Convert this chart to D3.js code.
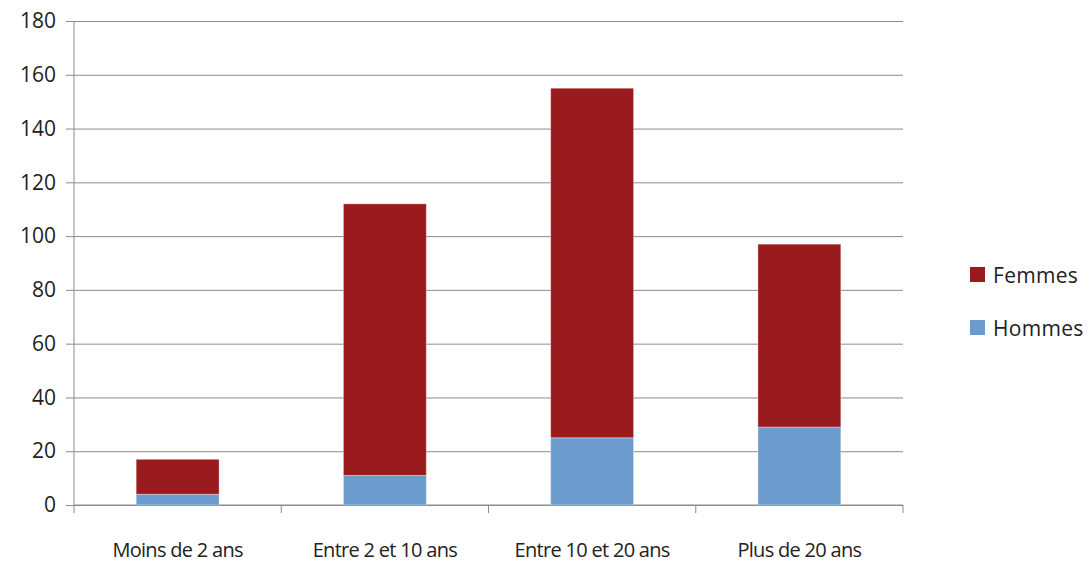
<!DOCTYPE html>
<html>
<head>
<meta charset="utf-8">
<script src="https://cdn.jsdelivr.net/npm/d3@7"></script>
<style>
  body { margin: 0; background: #fff; }
  svg { display: block; font-family: "Open Sans", "Noto Sans", sans-serif; }
</style>
</head>
<body>
<svg id="chart" width="1089" height="563"></svg>
<script>
// Ancienneté par tranche, effectifs hommes / femmes
const categories = ["Moins de 2 ans", "Entre 2 et 10 ans", "Entre 10 et 20 ans", "Plus de 20 ans"];
const hommes = [4, 11, 25, 29];
const femmes = [13, 101, 130, 68];
const yTicks = [0, 20, 40, 60, 80, 100, 120, 140, 160, 180];
const seriesNames = ["Femmes", "Hommes"];
const seriesColors = ["#991b1e", "#6c9bcd"];

const svg = d3.select("#chart");
const plotLeft = 74, plotRight = 903, plotTop = 21, plotBottom = 505;

const x = d3.scaleBand().domain(categories).range([plotLeft, plotRight]).paddingInner(0).paddingOuter(0);
const y = d3.scaleLinear().domain([0, 180]).range([plotBottom, plotTop]);

// Horizontal gridlines + y axis
const yAxis = d3.axisLeft(y).tickValues(yTicks).tickSize(8).tickPadding(10);
const gy = svg.append("g").attr("transform", `translate(${plotLeft},0)`).call(yAxis)
  .attr("font-size", null).attr("font-family", null);
gy.select(".domain").remove();
gy.selectAll(".tick line").attr("stroke", "#8c8c8c").attr("x2", plotRight - plotLeft).attr("x1", -8);
gy.selectAll(".tick text").attr("fill", "#222").attr("font-size", 21);

svg.append("line")
  .attr("x1", plotLeft).attr("x2", plotLeft).attr("y1", plotTop).attr("y2", plotBottom)
  .attr("stroke", "#8c8c8c");

// Category axis with boundary ticks
const gx = svg.append("g").attr("transform", `translate(0,${plotBottom})`);
gx.append("line").attr("x1", plotLeft).attr("x2", plotRight).attr("stroke", "#8c8c8c");
const bounds = categories.map(c => x(c)).concat([x(categories[categories.length - 1]) + x.bandwidth()]);
gx.selectAll("line.bt").data(bounds).enter().append("line")
  .attr("class", "bt")
  .attr("x1", d => d).attr("x2", d => d).attr("y1", 0).attr("y2", 8)
  .attr("stroke", "#8c8c8c");
gx.selectAll("text").data(categories).enter().append("text")
  .attr("x", d => x(d) + x.bandwidth() / 2)
  .attr("y", 52)
  .attr("text-anchor", "middle")
  .attr("fill", "#222")
  .attr("font-size", 20)
  .style("letter-spacing", "-0.7px")
  .text(d => d);

// Stacked bars
const data = categories.map((c, i) => ({ cat: c, Hommes: hommes[i], Femmes: femmes[i] }));
const stacked = d3.stack().keys(["Hommes", "Femmes"])(data);
const color = d3.scaleOrdinal().domain(seriesNames).range(seriesColors);
const barW = x.bandwidth() * 0.4;

svg.append("g").selectAll("g").data(stacked).enter().append("g")
  .attr("fill", d => color(d.key))
  .selectAll("rect").data(d => d).enter().append("rect")
  .attr("x", d => x(d.data.cat) + (x.bandwidth() - barW) / 2)
  .attr("width", barW)
  .attr("y", d => y(d[1]))
  .attr("height", d => y(d[0]) - y(d[1]))
  .attr("stroke", "rgba(255,255,255,0.35)")
  .attr("stroke-width", 1);

// Legend
const legend = svg.append("g").attr("transform", "translate(970,267)");
seriesNames.forEach((name, i) => {
  const g = legend.append("g").attr("transform", `translate(0,${i * 53})`);
  g.append("rect").attr("width", 15).attr("height", 15).attr("fill", color(name));
  g.append("text").attr("x", 23).attr("y", 16).attr("fill", "#222")
    .attr("font-size", 21).style("letter-spacing", "0.3px").text(name);
});
</script>
</body>
</html>
